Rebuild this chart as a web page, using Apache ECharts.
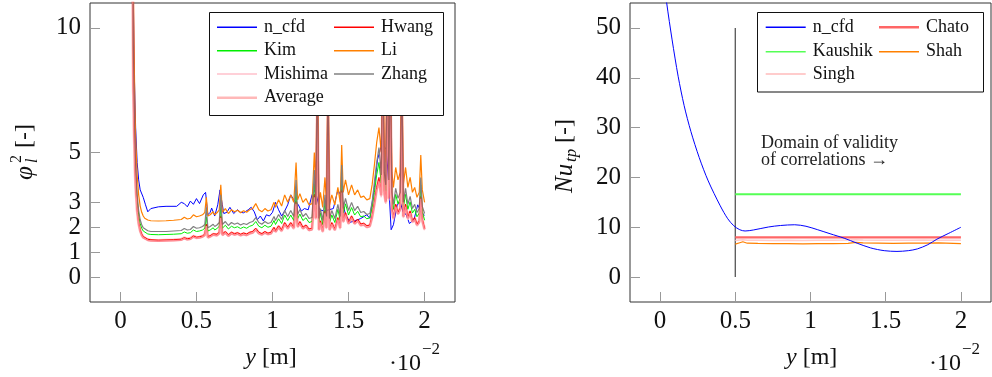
<!DOCTYPE html>
<html><head><meta charset="utf-8">
<script src="https://cdn.jsdelivr.net/npm/echarts@6/dist/echarts.min.js"></script>
<style>html,body{margin:0;padding:0;background:#fff}#c{width:992px;height:377px}</style>
</head><body><div id="c"></div>
<script>
// ---------- Left panel: two-phase multiplier phi_l^2 ----------
const xPhi = [
 0.08,0.085,0.09,0.095,0.10,0.11,0.12,0.13,0.14,0.15,0.16,0.18,0.20,
 0.25,0.30,0.35,0.40,0.42,0.44,0.46,0.48,0.50,0.52,0.54,
 0.555,0.565,0.575,0.59,0.61,0.62,0.635,0.65,0.66,0.67,0.69,0.71,0.73,0.75,0.77,0.79,0.81,0.83,0.85,0.87,0.89,0.91,0.93,0.95,0.97,0.99,
 1.01,1.02,1.04,1.06,1.08,1.10,1.12,1.14,1.155,1.165,1.18,1.20,1.22,1.24,1.26,
 1.275,1.285,1.295,1.305,1.315,1.33,1.345,1.355,1.365,1.375,1.39,1.41,1.43,1.445,1.455,1.465,1.48,1.50,
 1.52,1.54,1.56,1.58,1.60,1.62,1.64,1.655,1.67,1.685,1.70,
 1.715,1.725,1.735,1.745,1.755,1.765,1.775,1.785,1.795,1.81,1.825,1.84,1.85,1.86,1.875,1.89,1.905,1.92,1.935,1.95,1.965,1.975,1.985,2.0
];
const phiLi = [
 20,11.5,9.0,7.0,5.6,4.1,3.3,2.85,2.6,2.45,2.36,2.29,2.26,
 2.25,2.26,2.28,2.31,2.4,2.33,2.36,2.5,2.42,2.45,2.5,
 2.6,3.2,2.45,2.5,2.62,2.5,2.58,2.7,3.7,2.6,2.75,2.55,2.7,2.62,2.68,2.58,2.66,2.6,2.7,2.75,2.95,2.7,2.62,2.75,2.65,2.7,
 3.0,2.8,3.1,2.85,3.3,3.0,3.3,3.0,4.6,3.1,3.35,3.0,3.15,2.9,2.95,
 5.0,3.6,9.0,2.9,3.4,2.8,4.0,3.0,8.5,2.9,3.3,2.9,3.6,3.0,5.3,3.4,3.9,3.3,
 3.7,3.3,3.5,3.2,3.25,3.1,3.15,3.7,4.5,5.4,6.0,
 5.0,9.5,5.2,4.6,10.0,4.8,9.0,4.2,3.6,4.4,3.9,4.2,9.0,3.7,4.4,3.6,4.0,3.4,3.6,3.2,3.4,4.9,3.5,3.0
];
const phiZhang = [
 16,9.3,7.3,5.7,4.5,3.3,2.67,2.3,2.1,1.98,1.91,1.86,1.83,
 1.83,1.83,1.85,1.87,1.95,1.89,1.91,2.03,1.96,1.98,2.03,
 2.11,2.8,1.98,2.03,2.12,2.03,2.09,2.19,3.3,2.11,2.23,2.07,2.19,2.12,2.17,2.09,2.15,2.11,2.19,2.23,2.39,2.19,2.12,2.23,2.15,2.19,
 2.43,2.27,2.51,2.31,2.67,2.43,2.67,2.43,3.9,2.51,2.71,2.43,2.55,2.35,2.39,
 4.3,2.9,8.5,2.35,2.75,2.27,3.3,2.43,8.0,2.35,2.67,2.35,2.92,2.43,4.5,2.75,3.16,2.67,
 3.0,2.67,2.84,2.59,2.63,2.51,2.55,3.0,3.8,4.6,5.2,
 4.1,9.0,4.2,3.7,9.5,3.9,8.8,3.4,2.92,3.56,3.16,3.4,8.5,3.0,3.56,2.92,3.24,2.75,2.92,2.59,2.75,4.0,2.84,2.55
];
const phiKim = [
 15,8.7,6.8,5.3,4.2,3.1,2.5,2.15,1.96,1.85,1.78,1.73,1.71,
 1.7,1.71,1.72,1.74,1.81,1.76,1.78,1.89,1.83,1.85,1.89,
 1.96,2.42,1.85,1.89,1.98,1.89,1.95,2.04,2.8,1.96,2.08,1.93,2.04,1.98,2.02,1.95,2.01,1.96,2.04,2.08,2.23,2.04,1.98,2.08,2.0,2.04,
 2.27,2.11,2.34,2.15,2.49,2.27,2.49,2.27,3.47,2.34,2.53,2.27,2.38,2.19,2.23,
 3.78,2.72,7.5,2.19,2.57,2.11,3.02,2.27,7.2,2.19,2.49,2.19,2.72,2.27,4.0,2.57,2.94,2.49,
 2.79,2.49,2.64,2.42,2.45,2.34,2.38,2.79,3.4,4.1,4.6,
 3.78,8.0,3.93,3.47,8.5,3.62,8.0,3.17,2.72,3.32,2.94,3.17,7.5,2.79,3.32,2.72,3.02,2.57,2.72,2.42,2.57,3.7,2.64,2.28
];
const phiHwang = [
 13,7.6,6.0,4.65,3.72,2.73,2.2,1.9,1.73,1.63,1.57,1.52,1.5,
 1.48,1.49,1.5,1.52,1.58,1.54,1.56,1.65,1.6,1.62,1.65,
 1.73,2.13,1.63,1.66,1.74,1.66,1.72,1.8,2.46,1.73,1.83,1.7,1.8,1.74,1.78,1.72,1.77,1.73,1.8,1.83,1.96,1.8,1.74,1.83,1.76,1.8,
 2.0,1.86,2.06,1.9,2.19,2.0,2.19,2.0,3.06,2.06,2.23,2.0,2.09,1.93,1.96,
 3.33,2.39,6.8,1.93,2.26,1.86,2.66,2.0,6.6,1.93,2.19,1.93,2.39,2.0,3.52,2.26,2.59,2.19,
 2.46,2.19,2.33,2.13,2.16,2.06,2.09,2.46,3.0,3.6,4.0,
 3.33,7.5,3.46,3.06,8.0,3.19,7.5,2.79,2.39,2.93,2.59,2.79,7.0,2.46,2.93,2.39,2.66,2.26,2.39,2.13,2.26,3.26,2.33,1.95
];
const phiMishima = [
 12.5,7.4,5.8,4.5,3.6,2.62,2.11,1.82,1.66,1.57,1.51,1.47,1.45,
 1.44,1.45,1.46,1.48,1.54,1.49,1.51,1.6,1.55,1.57,1.6,
 1.66,2.05,1.57,1.6,1.68,1.6,1.65,1.73,2.37,1.66,1.76,1.63,1.73,1.68,1.72,1.65,1.7,1.66,1.73,1.76,1.89,1.73,1.68,1.76,1.7,1.73,
 1.92,1.79,1.98,1.82,2.11,1.92,2.11,1.92,2.94,1.98,2.14,1.92,2.02,1.86,1.89,
 3.2,2.3,6.6,1.86,2.18,1.79,2.56,1.92,6.4,1.86,2.11,1.86,2.3,1.92,3.39,2.18,2.5,2.11,
 2.37,2.11,2.24,2.05,2.08,1.98,2.02,2.37,2.88,3.46,3.84,
 3.2,7.3,3.33,2.94,7.8,3.07,7.3,2.69,2.3,2.82,2.5,2.69,6.8,2.37,2.82,2.3,2.56,2.18,2.3,2.05,2.18,3.14,2.24,1.88
];
const phiAverage = [
 13,7.5,5.9,4.6,3.67,2.69,2.16,1.87,1.7,1.6,1.55,1.5,1.48,
 1.47,1.48,1.49,1.51,1.57,1.53,1.55,1.64,1.59,1.6,1.64,
 1.7,2.1,1.6,1.64,1.72,1.64,1.69,1.77,2.42,1.7,1.8,1.67,1.77,1.72,1.76,1.69,1.74,1.7,1.77,1.8,1.93,1.77,1.72,1.8,1.74,1.77,
 1.97,1.83,2.03,1.87,2.16,1.97,2.16,1.97,3.01,2.03,2.19,1.97,2.06,1.9,1.93,
 3.28,2.36,6.7,1.9,2.23,1.83,2.62,1.97,6.5,1.9,2.16,1.9,2.36,1.97,3.47,2.23,2.55,2.16,
 2.42,2.16,2.29,2.1,2.13,2.03,2.06,2.42,2.95,3.54,3.93,
 3.28,7.4,3.4,3.0,7.9,3.14,7.4,2.75,2.36,2.88,2.55,2.75,6.9,2.42,2.88,2.36,2.62,2.23,2.36,2.1,2.23,3.2,2.29,1.92
];
const xCfdL = [0.08,0.09,0.10,0.11,0.12,0.13,0.15,0.165,0.18,0.19,0.20,0.25,0.30,0.37,0.40,0.42,0.44,0.46,0.48,0.50,0.52,0.545,0.56,0.575,0.59,0.60,0.62,0.64,0.655,0.67,0.68,0.70,0.72,0.745,0.77,0.79,0.81,0.84,0.86,0.88,0.90,0.92,0.94,0.96,0.98,1.00,1.02,1.04,1.06,1.08,1.10,1.12,1.14,1.17,1.19,1.21,1.235,1.26,1.28,1.30,1.31,1.34,1.37,1.40,1.43,1.455,1.48,1.51,1.54,1.58,1.62,1.64,1.67,1.69,1.72,1.75,1.765,1.78,1.795,1.82,1.84,1.86,1.88,1.90,1.93,1.955,1.98,2.0];
const cfdL = [14,8.5,6.0,4.6,3.9,3.5,3.2,2.9,2.62,2.65,2.75,2.82,2.84,2.84,3.0,2.95,2.82,3.05,2.92,3.15,2.95,3.3,3.4,2.5,2.6,2.77,2.45,2.9,3.5,2.9,2.55,2.6,2.8,2.55,2.7,2.6,2.58,2.7,2.8,2.62,2.3,2.45,2.25,2.5,2.45,2.6,3.0,2.7,2.45,2.65,2.9,3.3,3.1,2.9,2.65,2.75,2.7,3.3,3.5,3.0,2.7,2.65,2.7,2.75,3.5,3.2,2.5,2.2,2.25,2.35,2.5,2.36,3.6,4.7,5.38,5.1,3.6,1.9,2.1,2.9,3.0,2.6,2.5,2.15,2.3,2.9,2.6,2.48];

// ---------- Right panel: Nu_tp ----------
const xCfdR = [0.02,0.044,0.08,0.12,0.16,0.205,0.26,0.32,0.4,0.45,0.49,0.53,0.565,0.62,0.72,0.8,0.895,0.97,1.048,1.13,1.224,1.31,1.4,1.49,1.575,1.65,1.71,1.78,1.84,1.92,2.0];
const nuCfd = [61,55,47.6,40.3,34.4,29.2,24.0,19.3,14.3,11.7,10.3,9.5,9.25,9.45,10.05,10.35,10.5,10.2,9.5,8.7,7.8,6.8,5.85,5.3,5.15,5.3,5.65,6.5,7.6,8.8,10.0];
const xCorr = [0.5,2.0];
const nuChato = [7.95,7.95];
const nuKaushik = [16.6,16.6];
const xNoisy = [0.5,0.53,0.55,0.58,0.65,0.75,0.85,0.95,1.05,1.15,1.25,1.3,1.35,1.45,1.55,1.65,1.75,1.85,1.95,2.0];
const nuShah = [6.6,6.9,7.1,6.8,6.75,6.7,6.7,6.65,6.7,6.7,6.75,6.95,6.85,6.8,6.75,6.8,6.8,6.85,6.75,6.7];
const nuSingh = [7.35,7.45,7.5,7.4,7.4,7.35,7.4,7.35,7.4,7.4,7.45,7.5,7.45,7.4,7.4,7.4,7.45,7.4,7.4,7.4];
const xValid = [0.5,0.5];
const yValid = [0,50];

const xTicks = [0,0.5,1,1.5,2];
const yTicksL = [0,1,2,3,5,10];
const yTicksR = [0,10,20,30,40,50];

const FONT = 'Liberation Serif';
const zip = (xs, ys) => xs.map((x, i) => [x, ys[i]]);

function xAxisOf(g) {
  return {type:'value', gridIndex:g, min:-0.2, max:2.2,
    axisLine:{show:false, onZero:false}, splitLine:{show:false},
    axisTick:{show:true, inside:true, length:10, lineStyle:{color:'#999'}, customValues:xTicks},
    axisLabel:{customValues:xTicks, formatter:v=>String(v), fontFamily:FONT, fontSize:25, color:'#111', margin:7}};
}
function yAxisOf(g, min, max, ticks) {
  return {type:'value', gridIndex:g, min:min, max:max,
    axisLine:{show:false, onZero:false}, splitLine:{show:false},
    axisTick:{show:true, inside:true, length:10, lineStyle:{color:'#999'}, customValues:ticks},
    axisLabel:{customValues:ticks, formatter:v=>String(v), fontFamily:FONT, fontSize:25, color:'#111', margin:9}};
}
function line(name, g, xs, ys, color, width, z, smooth) {
  return {name:name, type:'line', xAxisIndex:g, yAxisIndex:g, data:zip(xs, ys),
    showSymbol:false, symbol:'none', color:color, lineStyle:{color:color, width:width},
    animation:false, z:z||2, clip:true, smooth:smooth||false};
}
function leg(name, left, top, h) {
  return {data:[name], left:left, top:top, padding:0, itemWidth:40, itemHeight:h, icon:'rect',
    selectedMode:false, textStyle:{fontFamily:FONT, fontSize:18, lineHeight:18, color:'#111', padding:[0,0,0,2]}, z:6};
}

const option = {
  backgroundColor:'#fff',
  animation:false,
  grid:[
    {left:90, top:3, width:365, height:299, show:true, borderColor:'#333', borderWidth:1, backgroundColor:'transparent'},
    {left:630, top:3, width:361, height:299, show:true, borderColor:'#333', borderWidth:1, backgroundColor:'transparent'}
  ],
  xAxis:[xAxisOf(0), xAxisOf(1)],
  yAxis:[yAxisOf(0,-1,11,yTicksL), yAxisOf(1,-5,55,yTicksR)],
  legend:[
    leg('n_cfd', 217, 18.3, 1.5), leg('Hwang', 334, 18.3, 1.5),
    leg('Kim', 217, 41.7, 1.5), leg('Li', 334, 41.7, 1.5),
    leg('Mishima', 217, 65, 1.5), leg('Zhang', 334, 65, 1.5),
    leg('Average', 217, 88.7, 2.5),
    leg('n_cfd ', 765.7, 18.3, 1.5), leg('Chato', 879, 18.3, 2.5),
    leg('Kaushik', 765.7, 42.7, 1.5), leg('Shah', 879, 42.7, 1.5),
    leg('Singh', 765.7, 65, 2)
  ],
  series:[
    line('n_cfd', 0, xCfdL, cfdL, '#0000ff', 1),
    line('Hwang', 0, xPhi, phiHwang, '#ff0000', 1),
    line('Kim', 0, xPhi, phiKim, '#00ee00', 1),
    line('Li', 0, xPhi, phiLi, '#ff8000', 1.2),
    line('Mishima', 0, xPhi, phiMishima, '#ffc0cb', 1.5),
    line('Zhang', 0, xPhi, phiZhang, '#808080', 1.2),
    line('Average', 0, xPhi, phiAverage, 'rgba(255,0,0,0.28)', 3),
    line('n_cfd ', 1, xCfdR, nuCfd, '#0000ff', 1, 3, 0.3),
    line('validity', 1, xValid, yValid, '#555555', 1.3),
    line('Chato', 1, xCorr, nuChato, '#ff6666', 2.2),
    line('Kaushik', 1, xCorr, nuKaushik, '#55ff55', 2),
    line('Shah', 1, xNoisy, nuShah, '#ff8000', 1.2),
    line('Singh', 1, xNoisy, nuSingh, '#ffcccc', 1.5)
  ],
  graphic:[
    {type:'rect', z:5, shape:{x:209.5, y:12.5, width:234, height:103}, style:{fill:'#fff', stroke:'#111', lineWidth:1}},
    {type:'rect', z:5, shape:{x:757.5, y:12.5, width:226, height:79.5}, style:{fill:'#fff', stroke:'#111', lineWidth:1}},
    {type:'text', z:6, left:761, top:134, style:{text:'Domain of validity\nof correlations →', font:'18px "Liberation Serif"', fill:'#222', lineHeight:17.5}},
    // x titles
    {type:'text', z:6, x:271, y:358, style:{text:'{i|y} [m]', align:'center', verticalAlign:'middle', font:'24px "Liberation Serif"', fill:'#111', rich:{i:{fontStyle:'italic', fontFamily:FONT, fontSize:24}}}},
    {type:'text', z:6, x:389, y:364, style:{text:'·10', align:'left', verticalAlign:'middle', font:'24px "Liberation Serif"', fill:'#111'}},
    {type:'text', z:6, x:422, y:350, style:{text:'−2', align:'left', verticalAlign:'middle', font:'17px "Liberation Serif"', fill:'#111'}},
    {type:'text', z:6, x:811.7, y:358, style:{text:'{i|y} [m]', align:'center', verticalAlign:'middle', font:'24px "Liberation Serif"', fill:'#111', rich:{i:{fontStyle:'italic', fontFamily:FONT, fontSize:24}}}},
    {type:'text', z:6, x:929, y:364, style:{text:'·10', align:'left', verticalAlign:'middle', font:'24px "Liberation Serif"', fill:'#111'}},
    {type:'text', z:6, x:962, y:350, style:{text:'−2', align:'left', verticalAlign:'middle', font:'17px "Liberation Serif"', fill:'#111'}},
    // y titles (rotated)
    {type:'group', x:25, y:154, rotation:Math.PI/2, z:6, children:[
      {type:'text', x:-26, y:0, style:{text:'φ', align:'left', verticalAlign:'middle', font:'italic 25px "Liberation Serif"', fill:'#111'}},
      {type:'text', x:-9, y:-8, style:{text:'2', align:'left', verticalAlign:'middle', font:'16px "Liberation Serif"', fill:'#111'}},
      {type:'text', x:-9, y:8, style:{text:'l', align:'left', verticalAlign:'middle', font:'italic 16px "Liberation Serif"', fill:'#111'}},
      {type:'text', x:6, y:0, style:{text:'[-]', align:'left', verticalAlign:'middle', font:'24px "Liberation Serif"', fill:'#111'}}
    ]},
    {type:'group', x:565, y:153, rotation:Math.PI/2, z:6, children:[
      {type:'text', x:-40, y:0, style:{text:'Nu', align:'left', verticalAlign:'middle', font:'italic 25px "Liberation Serif"', fill:'#111'}},
      {type:'text', x:-9, y:7, style:{text:'tp', align:'left', verticalAlign:'middle', font:'italic 17px "Liberation Serif"', fill:'#111'}},
      {type:'text', x:10, y:0, style:{text:'[-]', align:'left', verticalAlign:'middle', font:'24px "Liberation Serif"', fill:'#111'}}
    ]}
  ]
};
const chart = echarts.init(document.getElementById('c'), null, {renderer:'canvas'});
chart.setOption(option);
</script></body></html>
